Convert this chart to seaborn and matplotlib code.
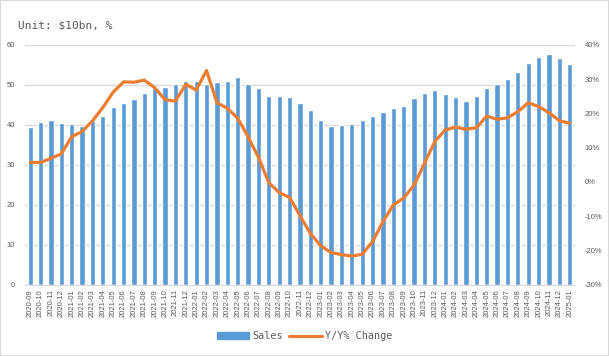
import numpy as np
import pandas as pd
import matplotlib
matplotlib.use("Agg")
import matplotlib.pyplot as plt
import seaborn as sns
from matplotlib.patches import Patch, Rectangle
from matplotlib.lines import Line2D
from matplotlib.ticker import FuncFormatter

months = pd.period_range("2020-09", "2025-01", freq="M").strftime("%Y-%m").tolist()

sales = [39.4, 40.7, 41.2, 40.5, 40.2, 39.8, 41.0, 42.2, 44.5, 45.4,
         46.4, 48.0, 49.1, 49.5, 50.2, 51.0, 50.9, 50.2, 50.8, 51.0,
         51.9, 50.2, 49.2, 47.3, 47.1, 46.9, 45.5, 43.8, 41.3, 39.8,
         40.0, 40.2, 41.2, 42.2, 43.2, 44.2, 44.8, 46.8, 48.0, 48.7,
         47.8, 47.0, 46.0, 47.2, 49.2, 50.2, 51.5, 53.2, 55.5, 57.0,
         57.7, 56.8, 55.1]

yoy = [5.7, 5.7, 6.9, 8.2, 13.2, 14.7, 17.8, 21.7, 26.2, 29.2,
       29.1, 29.7, 27.5, 24.0, 23.6, 28.5, 26.8, 32.5, 23.1, 21.5,
       18.6, 13.2, 7.2, -0.2, -3.1, -4.5, -9.8, -15.0, -18.6, -20.6,
       -21.2, -21.6, -21.1, -17.4, -11.6, -6.7, -4.7, -0.9, 5.4, 11.8,
       15.2, 16.0, 15.4, 15.8, 19.2, 18.3, 18.7, 20.5, 23.1, 22.0,
       20.2, 17.9, 17.1]

blue = "#5B9BD5"
orange = "#ED7D31"
grid_c = "#D9D9D9"
text_c = "#595959"

df = pd.DataFrame({"month": months, "sales": sales, "yoy": yoy})

sns.set_style("white")
plt.rcParams["font.family"] = ["Liberation Sans", "DejaVu Sans"]

fig, ax = plt.subplots(figsize=(6.09, 3.56), dpi=100)
fig.subplots_adjust(left=0.041, right=0.944, top=0.874, bottom=0.2)

sns.barplot(data=df, x="month", y="sales", color=blue, width=0.5,
            saturation=1, ax=ax, zorder=2)
ax.set_ylim(0, 60)
ax.set_yticks(range(0, 61, 10))
ax.yaxis.grid(True, color=grid_c, lw=1, zorder=0)
ax.set_axisbelow(True)
ax.set_xlim(-0.5, len(months) - 0.5)
ax.set_xlabel("")
ax.set_ylabel("")
ax.tick_params(axis="x", labelrotation=90, labelsize=5.5, colors=text_c,
               length=0, pad=3)
ax.tick_params(axis="y", labelsize=5.5, colors=text_c, length=0, pad=7)
ax.set_xticks(np.arange(len(months)) + 0.5, minor=True)
ax.tick_params(axis="x", which="minor", length=3, color=grid_c, width=0.8)
for s in ["top", "left", "right"]:
    ax.spines[s].set_visible(False)
ax.spines["bottom"].set_color(grid_c)

ax2 = ax.twinx()
sns.lineplot(x=np.arange(len(months)), y=df["yoy"], color=orange, lw=2.3,
             ax=ax2, zorder=3)
ax2.set_ylim(-30, 40)
ax2.set_yticks(range(-30, 41, 10))
ax2.yaxis.set_major_formatter(FuncFormatter(lambda v, p: f"{v:.0f}%"))
ax2.tick_params(axis="y", labelsize=5.5, colors=text_c, length=0, pad=7)
ax2.set_ylabel("")
ax2.grid(False)
for s in ax2.spines.values():
    s.set_visible(False)

fig.text(0.03, 1 - 25 / 356, "Unit: $10bn, %", fontsize=8, color=text_c,
         family="DejaVu Sans Mono", va="center", ha="left")

handles = [Patch(facecolor=blue, edgecolor=blue),
           Line2D([0], [0], color=orange, lw=2.3)]
leg = fig.legend(handles, ["Sales", "Y/Y% Change"], loc="center",
                 bbox_to_anchor=(0.5, 1 - 336 / 356), ncol=2, frameon=False,
                 prop={"family": "DejaVu Sans Mono", "size": 7.3},
                 handlelength=3.2, handleheight=0.6, handletextpad=0.3,
                 columnspacing=0.6)
for t in leg.get_texts():
    t.set_color(text_c)

fig.patches.append(Rectangle((0, 0), 1, 1, transform=fig.transFigure,
                             fill=False, edgecolor=grid_c, lw=1.5))

plt.savefig("out.png", dpi=100)
